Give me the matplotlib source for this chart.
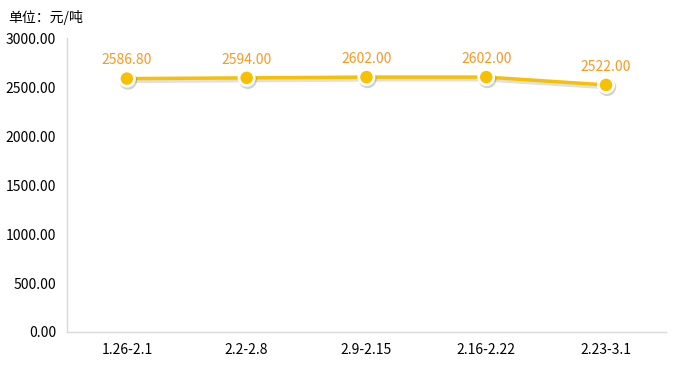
import matplotlib.pyplot as plt
import matplotlib.patheffects as pe

plt.rcParams['font.family'] = ['Noto Sans CJK SC', 'DejaVu Sans']

weeks = ["1.26-2.1", "2.2-2.8", "2.9-2.15", "2.16-2.22", "2.23-3.1"]
prices = [2586.80, 2594.00, 2602.00, 2602.00, 2522.00]

fig = plt.figure(figsize=(6.76, 3.66), dpi=100)
ax = fig.add_axes([0.0991, 0.0929, 0.886, 0.803])

xs = list(range(len(weeks)))
ax.plot(xs, prices, color='#F7C000', lw=2.5, zorder=2,
        path_effects=[pe.SimpleLineShadow(offset=(0.8, -1.5), shadow_color='#000000', alpha=0.12, linewidth=3.5),
                      pe.Normal()])
ax.plot(xs, prices, ls='none', marker='o', ms=11, mfc='#F7C000', mec='white', mew=2, zorder=3,
        path_effects=[pe.SimpleLineShadow(offset=(0.8, -1.5), shadow_color='#000000', alpha=0.18),
                      pe.Normal()])

for x, y in zip(xs, prices):
    ax.annotate(f"{y:.2f}", (x, y), xytext=(0, 8), textcoords='offset points',
                ha='center', va='bottom', color='#F59A23', fontsize=10)

ax.set_xlim(-0.5, len(weeks) - 0.5)
ax.set_ylim(0, 3000)
ax.set_yticks(range(0, 3001, 500))
ax.set_yticklabels([f"{v:.2f}" for v in range(0, 3001, 500)])
ax.set_xticks(xs)
ax.set_xticklabels(weeks)
ax.tick_params(length=0, labelsize=10, colors='#000000', pad=8)

for s in ['top', 'right']:
    ax.spines[s].set_visible(False)
for s in ['left', 'bottom']:
    ax.spines[s].set_color('#D9D9D9')
    ax.spines[s].set_linewidth(1)

fig.text(0.012, 0.951, "单位：元/吨", fontsize=10, va='center', ha='left')

fig.savefig("out.png", dpi=100)
